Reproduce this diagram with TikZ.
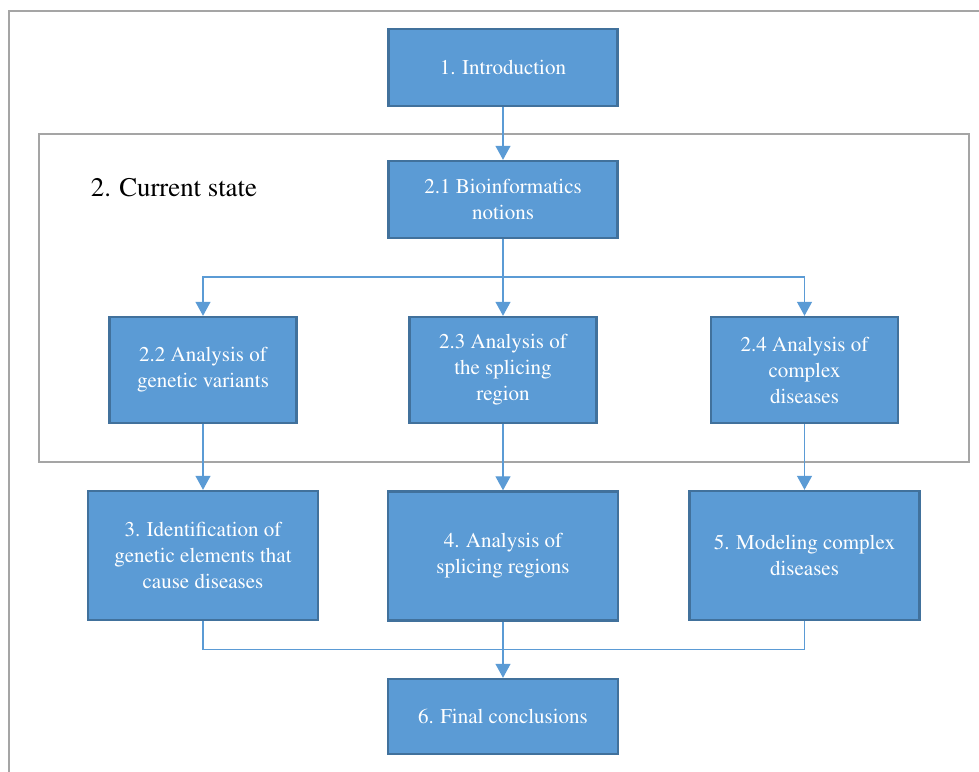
\documentclass[tikz,border=0pt]{standalone}
\usepackage[T1]{fontenc}
\usepackage{times}
\usetikzlibrary{arrows.meta}
\definecolor{boxfill}{HTML}{5B9BD5}
\definecolor{boxline}{HTML}{41719C}
\definecolor{framegray}{HTML}{A5A5A5}
\begin{document}
\begin{tikzpicture}[
    x=0.5pt, y=-0.5pt, >={Triangle[width=7.5pt,length=7pt]},
    box/.style={draw=boxline, line width=1.2pt, fill=boxfill, text=white,
                font=\fontsize{10.5}{13}\selectfont, align=center,
                minimum width=114.5pt, minimum height=38.5pt, inner sep=2pt},
    sub/.style={box, minimum width=93.5pt, minimum height=53pt},
    chapter/.style={box, minimum width=115pt, minimum height=64.5pt},
    link/.style={draw=boxfill, line width=0.6pt},
    arr/.style={link, ->},
    frame/.style={draw=framegray, line width=1pt}]
  \useasboundingbox (0,0) rectangle (979,771);
  % frames
  \draw[frame] (9,775) -- (9,10.5) -- (985,10.5);
  \draw[frame] (39,133.5) rectangle (968.5,462);
  \node[anchor=base west, inner sep=0pt, font=\fontsize{13.4}{16}\selectfont] (state) at (90.5,196) {2. Current state};
  % top
  \node[box] (intro) at (503,67.5) {1. Introduction};
  \node[box] (bio)   at (503,199.5) {2.1 Bioinformatics\\notions};
  % row 2
  \node[sub] (var) at (203,370) {2.2 Analysis of\\genetic variants};
  \node[sub] (spl) at (503,370) {2.3 Analysis of\\the splicing\\region};
  \node[sub] (cmp) at (804.5,370) {2.4 Analysis of\\complex\\diseases};
  % row 3
  \node[chapter] (ident)   at (203,555.5) {3. Identification of\\genetic elements that\\cause diseases};
  \node[chapter] (regions) at (503,556) {4. Analysis of\\splicing regions};
  \node[chapter] (model)   at (804.5,555.5) {5. Modeling complex\\diseases};
  % bottom
  \node[box, minimum width=115pt, minimum height=37.5pt] (final) at (503,716.5) {6. Final conclusions};
  \coordinate (split) at (503,277);
  \coordinate (join) at (503,649.5);
  \draw[arr] (intro) -- (bio);
  \draw[arr] (bio) -- (spl);
  \draw[arr] (bio.south) -- (split) -| (var.north);
  \draw[arr] (split) -| (cmp.north);
  \draw[arr] (var) -- (ident); \draw[arr] (spl) -- (regions); \draw[arr] (cmp) -- (model);
  \draw[link] (ident.south) |- (join);
  \draw[link] (model.south) |- (join);
  \draw[arr] (regions) -- (final);
\end{tikzpicture}
\end{document}
